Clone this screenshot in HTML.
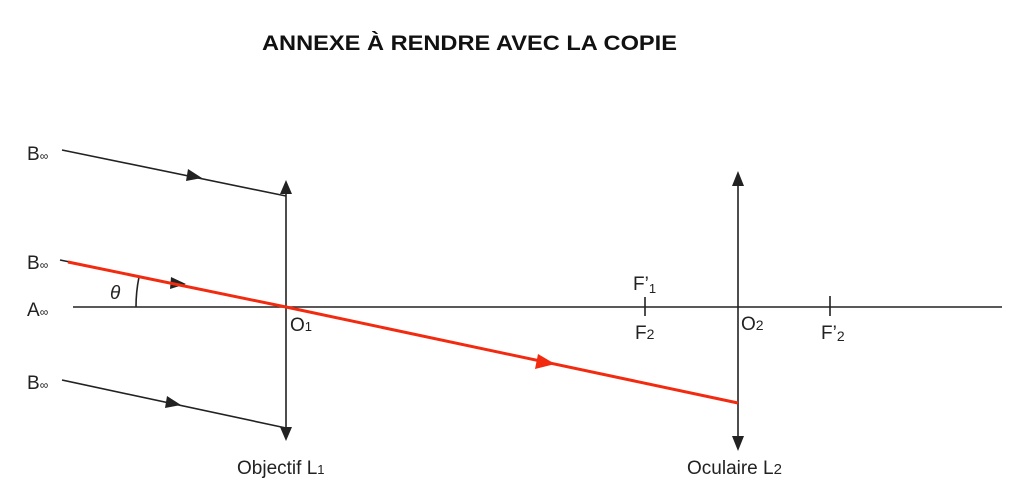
<!DOCTYPE html>
<html><head><meta charset="utf-8"><style>
body{margin:0;background:#fff;}
svg{display:block;font-family:"Liberation Sans",Arial,sans-serif;}
</style></head><body>
<svg width="1024" height="493" viewBox="0 0 1024 493">
<text x="262" y="50" font-size="21" font-weight="bold" fill="#111" textLength="415" lengthAdjust="spacingAndGlyphs">ANNEXE À RENDRE AVEC LA COPIE</text>
<g stroke="#222" stroke-width="1.6" fill="none">
<line x1="73" y1="307" x2="1002" y2="307"/>
<line x1="286" y1="190" x2="286" y2="432"/>
<line x1="738" y1="180" x2="738" y2="442"/>
<line x1="62" y1="150" x2="286" y2="196"/>
<line x1="62" y1="380" x2="286" y2="428"/>
<line x1="60" y1="260" x2="70" y2="262"/>
<line x1="645" y1="297" x2="645" y2="316"/>
<line x1="830" y1="296" x2="830" y2="316"/>
<path d="M136,307 A150,150 0 0 1 139,277"/>
</g>
<g fill="#222">
<polygon points="286,180 280,194 292,194"/>
<polygon points="286,441 280,427 292,427"/>
<polygon points="738,171 732,186 744,186"/>
<polygon points="738,451 732,436 744,436"/>
<polygon points="202,178 188,169 186,181"/>
<polygon points="181,405 167,396 165,408"/>
<polygon points="186,284 171,277 170,289"/>
</g>
<polyline points="68,262 286,307 738,403" stroke="#f22a10" stroke-width="3" fill="none"/>
<polygon points="555,364 538,354 535,369" fill="#f22a10"/>
<g font-size="19" fill="#222">
<text x="27" y="160">B<tspan font-size="12">∞</tspan></text>
<text x="27" y="269">B<tspan font-size="12">∞</tspan></text>
<text x="27" y="389">B<tspan font-size="12">∞</tspan></text>
<text x="27" y="316">A<tspan font-size="12">∞</tspan></text>
<text x="110" y="299" font-style="italic">θ</text>
<text x="290" y="331">O<tspan font-size="13">1</tspan></text>
<text x="633" y="290">F’<tspan font-size="13" dy="3">1</tspan></text>
<text x="635" y="339">F<tspan font-size="14">2</tspan></text>
<text x="741" y="330">O<tspan font-size="14">2</tspan></text>
<text x="821" y="339">F’<tspan font-size="14" dy="2">2</tspan></text>
<text x="237" y="474">Objectif L<tspan font-size="13">1</tspan></text>
<text x="687" y="474">Oculaire L<tspan font-size="15">2</tspan></text>
</g>
</svg>
</body></html>
